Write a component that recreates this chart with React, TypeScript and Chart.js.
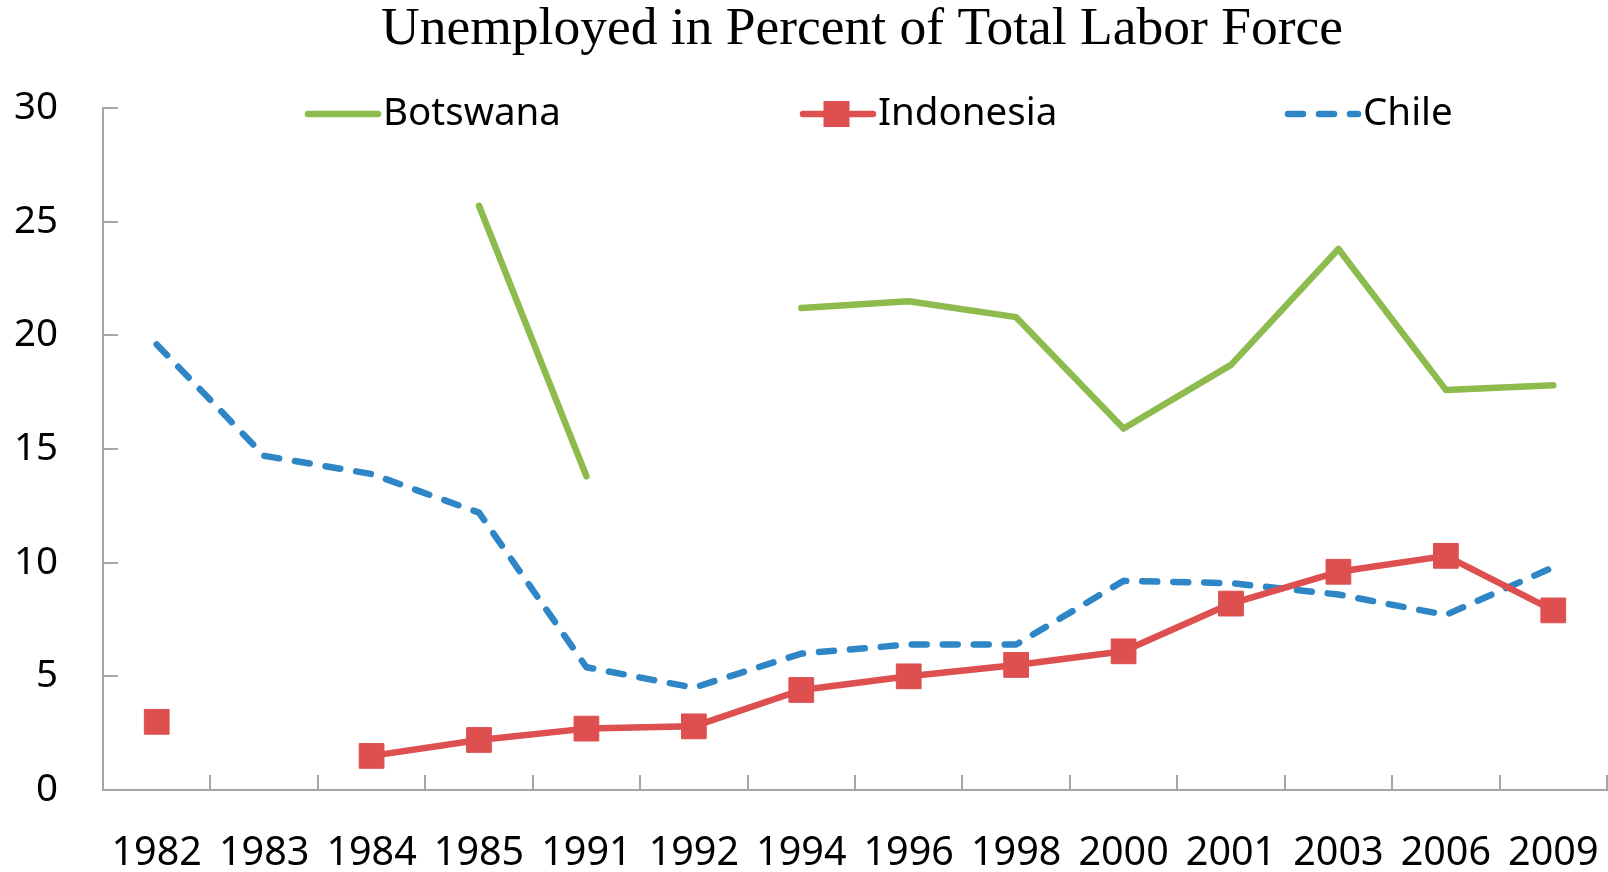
import React, { useEffect, useRef } from 'react';
import { Chart, registerables } from 'chart.js';

Chart.register(...registerables);

const categories = ['1982', '1983', '1984', '1985', '1991', '1992', '1994', '1996', '1998', '2000', '2001', '2003', '2006', '2009'];
const botswana = [null, null, null, 25.7, 13.8, null, 21.2, 21.5, 20.8, 15.9, 18.7, 23.8, 17.6, 17.8];
const indonesia = [3.0, null, 1.5, 2.2, 2.7, 2.8, 4.4, 5.0, 5.5, 6.1, 8.2, 9.6, 10.3, 7.9];
const chile = [19.6, 14.7, 13.9, 12.2, 5.4, 4.5, 6.0, 6.4, 6.4, 9.2, 9.1, 8.6, 7.7, 9.8];
const seriesNames = ['Botswana', 'Indonesia', 'Chile'];
const titleText = 'Unemployed in Percent of Total Labor Force';

const GREEN = '#8DBB4E';
const RED = '#DE4F4F';
const BLUE = '#2E86C6';
const AXIS = '#A6A6A6';
const FONT = '"Noto Sans", "Open Sans", sans-serif';
const DASH = [15, 16];
const LW = 6.5;

const legendX = [305, 800, 1285];

const decor = {
  id: 'decor',
  afterDraw(chart: any) {
    const { ctx, chartArea, scales } = chart;
    const x = scales.x;
    const y = scales.y;
    ctx.save();
    ctx.strokeStyle = AXIS;
    ctx.lineWidth = 2;
    ctx.beginPath();
    for (const t of y.ticks) {
      const py = Math.round(y.getPixelForValue(t.value));
      ctx.moveTo(chartArea.left, py);
      ctx.lineTo(chartArea.left + 15, py);
    }
    for (let i = 0; i < categories.length; i++) {
      const px = Math.min(Math.round(x.getPixelForValue(i + 0.5)), chart.width - 1);
      ctx.moveTo(px, chartArea.bottom);
      ctx.lineTo(px, chartArea.bottom - 15);
    }
    ctx.stroke();

    ctx.fillStyle = '#000';
    ctx.font = '53.5px "Liberation Serif", "Times New Roman", serif';
    ctx.textAlign = 'center';
    ctx.textBaseline = 'middle';
    ctx.fillText(titleText, 862, 30);

    const ly = 114;
    chart.data.datasets.forEach((ds: any, i: number) => {
      const x0 = legendX[i];
      const x1 = x0 + 73;
      ctx.save();
      ctx.strokeStyle = ds.borderColor;
      ctx.lineWidth = ds.borderWidth;
      ctx.lineCap = 'round';
      if (ds.borderDash) ctx.setLineDash(ds.borderDash);
      ctx.beginPath();
      ctx.moveTo(x0 + 3, ly);
      ctx.lineTo(x1, ly);
      ctx.stroke();
      ctx.restore();
      if (ds.pointRadius > 0) {
        ctx.fillStyle = ds.borderColor;
        ctx.fillRect((x0 + x1) / 2 - 13, ly - 13, 26, 26);
      }
      ctx.fillStyle = '#000';
      ctx.font = '38.5px ' + FONT;
      ctx.textAlign = 'left';
      ctx.textBaseline = 'middle';
      ctx.fillText(ds.label, x1 + 5, ly);
    });
    ctx.restore();
  },
};

export default function App() {
  const ref = useRef<HTMLCanvasElement>(null);
  useEffect(() => {
    document.body.style.margin = '0';
    const canvas = ref.current!;
    const common = {
      borderWidth: LW,
      borderCapStyle: 'round',
      borderJoinStyle: 'round',
      spanGaps: false,
      tension: 0,
    };
    const chart = new Chart(canvas, {
      type: 'line',
      data: {
        labels: categories,
        datasets: [
          {
            ...common,
            label: seriesNames[0],
            data: botswana,
            borderColor: GREEN,
            backgroundColor: GREEN,
            pointRadius: 0,
          },
          {
            ...common,
            label: seriesNames[1],
            data: indonesia,
            borderColor: RED,
            backgroundColor: RED,
            pointRadius: 17.5,
            pointStyle: 'rect',
            pointBorderWidth: 1,
            pointBackgroundColor: RED,
            pointBorderColor: RED,
          },
          {
            ...common,
            label: seriesNames[2],
            data: chile,
            borderColor: BLUE,
            backgroundColor: BLUE,
            borderDash: DASH,
            pointRadius: 0,
          },
        ] as any,
      },
      options: {
        responsive: false,
        animation: false,
        devicePixelRatio: 1,
        layout: { autoPadding: false, padding: { top: 108, right: 1, left: 0, bottom: 0 } },
        plugins: {
          legend: { display: false },
          title: { display: false },
          tooltip: { enabled: false },
        },
        scales: {
          x: {
            offset: true,
            grid: { display: false, drawTicks: false },
            border: { display: true, color: AXIS, width: 2 },
            ticks: {
              color: '#000',
              font: { family: FONT, size: 39.5 },
              padding: 40,
              maxRotation: 0,
              autoSkip: false,
            },
            afterFit: (s: any) => {
              s.height = 82;
              s.paddingLeft = 0;
              s.paddingRight = 0;
            },
          },
          y: {
            min: 0,
            max: 30,
            grid: { display: false, drawTicks: false },
            border: { display: true, color: AXIS, width: 2 },
            ticks: {
              stepSize: 5,
              color: '#000',
              font: { family: FONT, size: 38.5 },
              padding: 45,
            },
            afterFit: (s: any) => {
              s.width = 103;
              s.paddingTop = 0;
              s.paddingBottom = 0;
            },
          },
        },
      },
      plugins: [decor],
    });
    return () => chart.destroy();
  }, []);
  return (
    <div style={{ width: 1608, height: 872 }}>
      <canvas ref={ref} width={1608} height={872} />
    </div>
  );
}
